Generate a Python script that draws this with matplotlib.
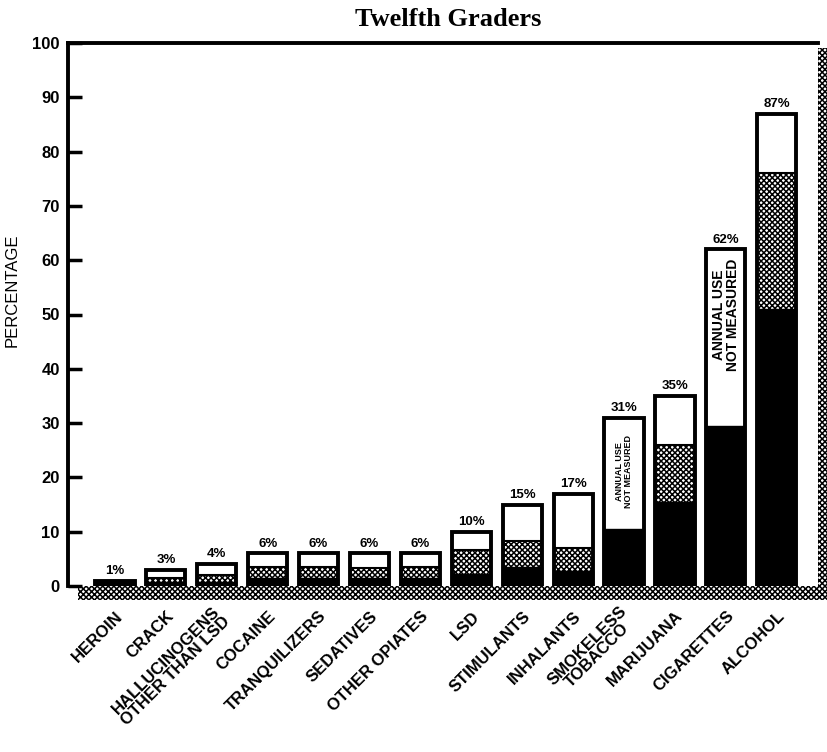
import numpy as np
import matplotlib.pyplot as plt
from matplotlib.patches import Rectangle
import matplotlib.transforms as mtransforms

plt.rcParams['font.family'] = ['Liberation Sans', 'DejaVu Sans']
plt.rcParams['hatch.linewidth'] = 1.1

# drug categories, left to right
drugs = ['HEROIN', 'CRACK', 'HALLUCINOGENS\nOTHER THAN LSD', 'COCAINE',
         'TRANQUILIZERS', 'SEDATIVES', 'OTHER OPIATES', 'LSD', 'STIMULANTS',
         'INHALANTS', 'SMOKELESS\nTOBACCO', 'MARIJUANA', 'CIGARETTES', 'ALCOHOL']
# lifetime (white), annual (dotted), 30-day (black) prevalence, percent
lifetime = [1, 3, 4, 6, 6, 6, 6, 10, 15, 17, 31, 35, 62, 87]
annual = [0.6, 1.5, 2.0, 3.5, 3.5, 3.4, 3.5, 6.6, 8.3, 7.0, np.nan, 26, np.nan, 76]
thirty_day = [0.4, 0.7, 0.8, 1.4, 1.4, 1.5, 1.5, 2.2, 3.5, 2.8, 10.5, 15.5, 29.5, 51]
top_labels = ['1%', '3%', '4%', '6%', '6%', '6%', '6%', '10%', '15%', '17%',
              '31%', '35%', '62%', '87%']

x = np.arange(len(drugs))
w = 0.77

fig = plt.figure(figsize=(8.27, 7.52), dpi=100)
ax = fig.add_axes([68/827, 1-586/752, 750/827, 543/752])

# white lifetime bars, hatched annual bars, black 30-day bars
ax.bar(x, lifetime, w, color='white', edgecolor='none', zorder=2)
ann = np.array(annual)
ok = ~np.isnan(ann)
ax.bar(x[ok], ann[ok], w, color='white', edgecolor='black', hatch='xxxxxx',
       linewidth=1.5, zorder=3)
ax.bar(x, thirty_day, w, color='black', edgecolor='black', zorder=4)
ax.bar(x, lifetime, w, fill=False, edgecolor='black', linewidth=2.8, zorder=5)

for xi, h, lab in zip(x, lifetime, top_labels):
    ax.text(xi, h + 0.7, lab, ha='center', va='bottom', fontsize=9.5,
            fontweight='bold', zorder=6)

# "not measured" notes inside the white segments
for i, fs, yc in [(10, 6.5, 21), (12, 10, 50)]:
    ax.text(x[i], yc, 'ANNUAL USE\nNOT MEASURED', rotation=90, ha='center',
            va='center', fontsize=fs, fontweight='bold', linespacing=0.95,
            zorder=6)

ax.set_xlim(-0.923, 13.81)
ax.set_ylim(0, 100)
ax.set_yticks(range(0, 101, 10))
ax.tick_params(axis='y', direction='in', length=10, width=2.5, pad=6,
               labelsize=12)
for t in ax.get_yticklabels():
    t.set_fontweight('bold')
ax.set_xticks(x)
ax.set_xticklabels(drugs, rotation=45, ha='right', va='center',
                   rotation_mode='anchor', fontsize=12, fontweight='bold',
                   linespacing=0.9, multialignment='center')
ax.tick_params(axis='x', length=0, pad=20)
offset = mtransforms.ScaledTranslation(4/72, 0, fig.dpi_scale_trans)
for t in ax.get_xticklabels():
    t.set_transform(t.get_transform() + offset)

ax.spines['left'].set_linewidth(2.8)
ax.spines['top'].set_linewidth(2.8)
ax.spines['right'].set_visible(False)
ax.spines['bottom'].set_visible(False)

ax.set_ylabel('PERCENTAGE', fontsize=12)
ax.yaxis.set_label_coords(-0.065, 0.545)

# hatched floor and right-hand wall
ax.add_patch(Rectangle((-0.72, -2.6), 15, 2.6, facecolor='white',
                       edgecolor='black', hatch='xxxxxx', linewidth=0,
                       clip_on=False, zorder=1))
fig.patches.append(Rectangle((818/827, 1-600/752), 9/827, 552/752,
                             transform=fig.transFigure, facecolor='white',
                             edgecolor='black', hatch='xxxxxx', linewidth=0))

fig.text(448/827, 1-19/752, 'Twelfth Graders', ha='center', va='center',
         fontsize=19, fontweight='bold', family='Liberation Serif')

fig.savefig('out.png', dpi=100)
